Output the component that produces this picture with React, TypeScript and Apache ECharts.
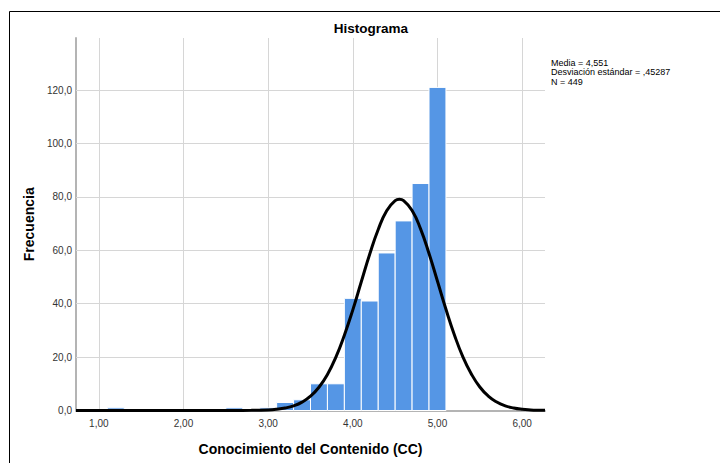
import React, { useEffect, useRef } from "react";
import * as echarts from "echarts";

// Histogram bins (centre of each 0.2-wide bin) and frequencies
const binCenters = [1.2, 2.6, 3.0, 3.2, 3.4, 3.6, 3.8, 4.0, 4.2, 4.4, 4.6, 4.8, 5.0];
const frequencies = [1, 1, 1, 3, 4, 10, 10, 42, 41, 59, 71, 85, 121];
const binWidth = 0.2;

// Normal curve points
const curveX = [0.73, 2.0, 2.6, 2.8, 3.0, 3.1, 3.2, 3.3, 3.4, 3.5, 3.6, 3.7, 3.8, 3.9, 4.0, 4.1, 4.2, 4.3, 4.4, 4.5, 4.55, 4.6, 4.7, 4.8, 4.9, 5.0, 5.1, 5.2, 5.3, 5.4, 5.5, 5.6, 5.7, 5.8, 5.9, 6.0, 6.1, 6.2, 6.27];
const curveY = [0, 0, 0.01, 0.05, 0.22, 0.47, 0.93, 1.74, 3.13, 5.36, 8.72, 13.5, 20.0, 28.2, 37.7, 48.2, 58.6, 67.8, 74.8, 78.6, 79.1, 78.6, 74.9, 68.0, 58.8, 48.4, 37.9, 28.3, 20.1, 13.7, 8.8, 5.4, 3.17, 1.76, 0.94, 0.47, 0.23, 0.1, 0.05];

// Tick labels
const xTicks = [1, 2, 3, 4, 5, 6];
const yTicks = [0, 20, 40, 60, 80, 100, 120];

const statsLines = ["Media = 4,551", "Desviación estándar = ,45287", "N = 449"];

const FONT = "Liberation Sans, Arial, sans-serif";

export default function App() {
  const ref = useRef<HTMLDivElement>(null);
  useEffect(() => {
    if (!ref.current) return;
    const chart = echarts.init(ref.current, undefined, { renderer: "svg" });
    const barData = binCenters.map((c, i) => [c, frequencies[i]]);
    const curveData = curveX.map((x, i) => [x, curveY[i]]);
    chart.setOption({
      animation: false,
      backgroundColor: "#ffffff",
      textStyle: { fontFamily: FONT },
      title: {
        text: "Histograma",
        left: 366,
        top: 16,
        textAlign: "center",
        textStyle: { fontFamily: FONT, fontSize: 13.5, fontWeight: "bold", color: "#000" },
      },
      grid: { left: 76, right: 175, top: 38, bottom: 52.5, containLabel: false },
      xAxis: {
        type: "value",
        min: 0.73,
        max: 6.27,
        name: "Conocimiento del Contenido (CC)",
        nameLocation: "middle",
        nameGap: 31,
        nameTextStyle: { fontFamily: FONT, fontSize: 14, fontWeight: "bold", color: "#000" },
        axisLine: { show: true, onZero: false, lineStyle: { color: "#b4b4b4", width: 2 } },
        axisTick: { show: false },
        splitLine: { show: false },
        axisLabel: {
          customValues: xTicks,
          margin: 8,
          fontSize: 10,
          color: "#333",
          fontFamily: FONT,
          formatter: (v: number) => v.toFixed(2).replace(".", ","),
        },
      },
      yAxis: {
        type: "value",
        min: 0,
        max: 139.5,
        name: "Frecuencia",
        nameLocation: "middle",
        nameGap: 35,
        nameTextStyle: { fontFamily: FONT, fontSize: 14, fontWeight: "bold", color: "#000" },
        axisLine: { show: true, lineStyle: { color: "#b4b4b4", width: 2 } },
        axisTick: { show: false },
        splitLine: { show: false },
        axisLabel: {
          customValues: yTicks,
          margin: 4,
          fontSize: 10,
          color: "#333",
          fontFamily: FONT,
          formatter: (v: number) => v.toFixed(1).replace(".", ","),
        },
      },
      series: [
        {
          type: "line",
          data: [],
          silent: true,
          z: 1,
          markLine: {
            silent: true,
            z: 1,
            symbol: ["none", "none"],
            label: { show: false },
            lineStyle: { color: "#d6d6d6", width: 1, type: "solid" },
            data: [
              ...yTicks.filter((v) => v > 0).map((v) => ({ yAxis: v })),
              ...xTicks.map((v) => ({ xAxis: v })),
            ],
          },
        },
        {
          type: "custom",
          z: 2,
          data: barData,
          renderItem: (params: any, api: any) => {
            const c = api.value(0);
            const f = api.value(1);
            const p0 = api.coord([c - binWidth / 2, f]);
            const p1 = api.coord([c + binWidth / 2, 0]);
            return {
              type: "rect",
              shape: { x: p0[0], y: p0[1], width: p1[0] - p0[0], height: p1[1] - p0[1] },
              style: { fill: "#5596e5", stroke: "#ffffff", lineWidth: 1 },
            };
          },
        },
        {
          type: "line",
          z: 3,
          data: curveData,
          smooth: true,
          symbol: "none",
          silent: true,
          clip: false,
          lineStyle: { color: "#000", width: 3 },
        },
      ],
      graphic: [
        {
          type: "polyline",
          silent: true,
          shape: { points: [[720, 11.5], [9.5, 11.5], [9.5, 463]] },
          style: { stroke: "#000", lineWidth: 1, fill: "none" },
        },
        ...statsLines.map((t, i) => ({
          type: "text",
          left: 551,
          top: 58 + i * 9.6,
          style: { text: t, font: `9px ${FONT}`, fill: "#000" },
        })),
      ],
    });
    return () => chart.dispose();
  }, []);
  return (
    <div
      ref={ref}
      style={{ position: "fixed", left: 0, top: 0, width: 720, height: 463 }}
    />
  );
}
